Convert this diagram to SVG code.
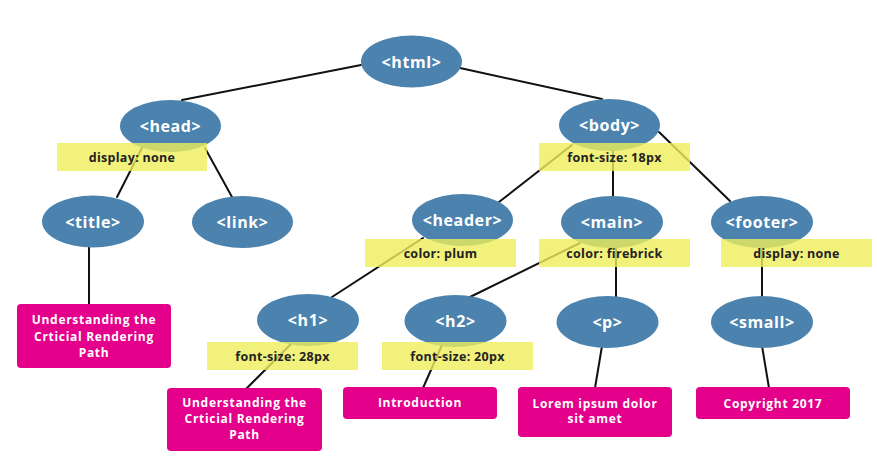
<svg xmlns="http://www.w3.org/2000/svg" width="877" height="470" viewBox="0 0 877 470">
<style>
.bg{fill:#ffffff}
.edge{stroke:#111111;stroke-width:2;fill:none;stroke-linecap:round}
.node ellipse{fill:#4b83ae}
.node text{fill:#ffffff;font-family:"Open Sans","DejaVu Sans",sans-serif;font-weight:bold;font-size:16px;letter-spacing:0.6px;text-anchor:middle}
.note rect{fill:#eded5a;opacity:0.8}
.note text{fill:#222222;font-family:"Open Sans","DejaVu Sans",sans-serif;font-weight:bold;font-size:12.5px;letter-spacing:0.3px;text-anchor:middle}
.leaf rect{fill:#e4008b}
.leaf text{fill:#ffffff;font-family:"Open Sans","DejaVu Sans",sans-serif;font-weight:bold;font-size:12px;letter-spacing:0.7px;text-anchor:middle}
</style>
<rect class="bg" x="0" y="0" width="877" height="470"/>
<g id="connectors">
<line class="edge" x1="361" y1="65" x2="182" y2="100"/>
<line class="edge" x1="460" y1="68" x2="602" y2="99"/>
<line class="edge" x1="142" y1="148" x2="117" y2="197"/>
<line class="edge" x1="205" y1="148" x2="232" y2="197"/>
<line class="edge" x1="89" y1="246" x2="89" y2="305"/>
<line class="edge" x1="572" y1="145" x2="499" y2="202"/>
<line class="edge" x1="613" y1="149" x2="613" y2="197"/>
<line class="edge" x1="659" y1="132" x2="730" y2="201"/>
<line class="edge" x1="423" y1="238" x2="332" y2="297"/>
<line class="edge" x1="580" y1="243" x2="470" y2="297"/>
<line class="edge" x1="616" y1="246" x2="616" y2="297"/>
<line class="edge" x1="762" y1="246" x2="762" y2="297"/>
<line class="edge" x1="292" y1="343" x2="246" y2="389"/>
<line class="edge" x1="442" y1="345" x2="423" y2="388"/>
<line class="edge" x1="602" y1="346" x2="595" y2="388"/>
<line class="edge" x1="762" y1="346" x2="769" y2="388"/>
</g>
<g id="n-html" class="node"><ellipse cx="411.5" cy="61.5" rx="50.5" ry="26"/><text x="411.5" y="67.5">&lt;html&gt;</text></g>
<g id="n-head" class="node"><ellipse cx="170.5" cy="126" rx="50.5" ry="26"/><text x="170.5" y="132">&lt;head&gt;</text></g>
<g id="n-body" class="node"><ellipse cx="609.5" cy="125" rx="50.5" ry="26"/><text x="609.5" y="131">&lt;body&gt;</text></g>
<g id="n-title" class="node"><ellipse cx="93" cy="221.5" rx="51" ry="26"/><text x="93" y="227.5">&lt;title&gt;</text></g>
<g id="n-link" class="node"><ellipse cx="242.5" cy="222" rx="50.5" ry="26"/><text x="242.5" y="228">&lt;link&gt;</text></g>
<g id="n-header" class="node"><ellipse cx="462.5" cy="220" rx="50.5" ry="26"/><text x="462.5" y="226">&lt;header&gt;</text></g>
<g id="n-main" class="node"><ellipse cx="612" cy="222" rx="51" ry="26"/><text x="612" y="228">&lt;main&gt;</text></g>
<g id="n-footer" class="node"><ellipse cx="762" cy="222" rx="51" ry="26"/><text x="762" y="228">&lt;footer&gt;</text></g>
<g id="n-h1" class="node"><ellipse cx="308" cy="320" rx="51" ry="26"/><text x="308" y="326">&lt;h1&gt;</text></g>
<g id="n-h2" class="node"><ellipse cx="455.5" cy="321" rx="51" ry="26"/><text x="455.5" y="327">&lt;h2&gt;</text></g>
<g id="n-p" class="node"><ellipse cx="607.5" cy="322" rx="51" ry="26"/><text x="607.5" y="328">&lt;p&gt;</text></g>
<g id="n-small" class="node"><ellipse cx="762" cy="322" rx="51" ry="26"/><text x="762" y="328">&lt;small&gt;</text></g>
<g id="note-head" class="note"><rect x="57" y="143" width="150" height="28"/><text x="132" y="162">display: none</text></g>
<g id="note-body" class="note"><rect x="539" y="143" width="151" height="28"/><text x="614.5" y="162">font-size: 18px</text></g>
<g id="note-header" class="note"><rect x="365" y="239" width="151" height="28"/><text x="440.5" y="258">color: plum</text></g>
<g id="note-main" class="note"><rect x="539" y="239" width="151" height="28"/><text x="614.5" y="258">color: firebrick</text></g>
<g id="note-footer" class="note"><rect x="721" y="239" width="151" height="28"/><text x="796.5" y="258">display: none</text></g>
<g id="note-h1" class="note"><rect x="207" y="342" width="151" height="28"/><text x="282.5" y="361">font-size: 28px</text></g>
<g id="note-h2" class="note"><rect x="382" y="342" width="151" height="28"/><text x="457.5" y="361">font-size: 20px</text></g>
<g id="leaf-title" class="leaf"><rect x="17" y="304" width="154" height="64" rx="4"/><text x="94" y="324">Understanding the</text><text x="94" y="341">Crticial Rendering</text><text x="94" y="357">Path</text></g>
<g id="leaf-h1" class="leaf"><rect x="167" y="388" width="155" height="63" rx="4"/><text x="244.5" y="407">Understanding the</text><text x="244.5" y="423">Crticial Rendering</text><text x="244.5" y="439">Path</text></g>
<g id="leaf-h2" class="leaf"><rect x="343" y="387" width="154" height="32" rx="4"/><text x="420" y="407">Introduction</text></g>
<g id="leaf-p" class="leaf"><rect x="518" y="387" width="154" height="50" rx="4"/><text x="595" y="407.5">Lorem ipsum dolor</text><text x="595" y="423">sit amet</text></g>
<g id="leaf-small" class="leaf"><rect x="696" y="387" width="154" height="32" rx="4"/><text x="773" y="407.5">Copyright 2017</text></g>
</svg>
